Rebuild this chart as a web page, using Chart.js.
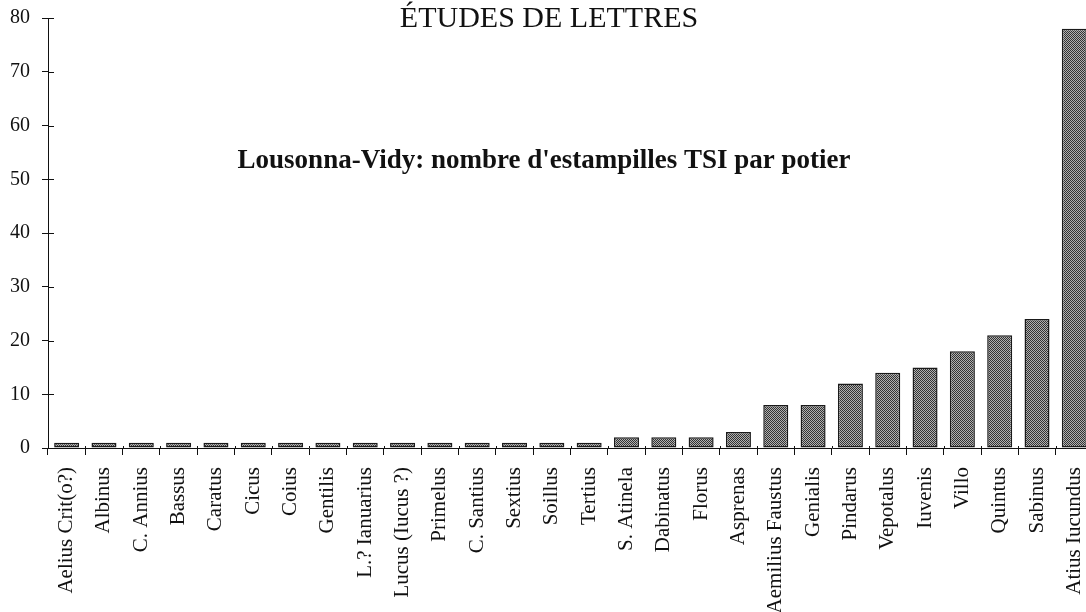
<!DOCTYPE html>
<html>
<head>
<meta charset="utf-8">
<script src="https://cdn.jsdelivr.net/npm/chart.js@4"></script>
<style>
  html, body { margin: 0; padding: 0; background: #fff; overflow: hidden; }
  #wrap { width: 1093px; height: 612px; }
</style>
</head>
<body>
<div id="wrap"><canvas id="potiers" width="1093" height="612"></canvas></div>
<script>
// potiers, dans l'ordre du graphique
const potiers = ['Aelius Crit(o?)', 'Albinus', 'C. Annius', 'Bassus', 'Caratus', 'Cicus', 'Coius',
  'Gentilis', 'L.? Ianuarius', 'Lucus (Iucus ?)', 'Primelus', 'C. Santius', 'Sextius', 'Soillus',
  'Tertius', 'S. Atinela', 'Dabinatus', 'Florus', 'Asprenas', 'Aemilius Faustus', 'Genialis',
  'Pindarus', 'Vepotalus', 'Iuvenis', 'Villo', 'Quintus', 'Sabinus', 'Atius Iucundus']
// nombre d'estampilles TSI
const estampilles = [1, 1, 1, 1, 1, 1, 1, 1, 1, 1, 1, 1, 1, 1, 1, 2, 2, 2, 3, 8, 8, 12, 14, 15, 18, 21, 24, 78]
const yMin = 0, yMax = 80, yStep = 10

const entete = 'ÉTUDES DE LETTRES'
const titre = "Lousonna-Vidy: nombre d'estampilles TSI par potier"

const serif = "'Liberation Serif', 'Times New Roman', serif"

// trame grise en damier pour les barres
function trame() {
  const c = document.createElement('canvas')
  c.width = 2; c.height = 2
  const g = c.getContext('2d')
  g.fillStyle = '#b0b0b0'; g.fillRect(0, 0, 2, 2)
  g.fillStyle = '#333'; g.fillRect(0, 0, 1, 1); g.fillRect(1, 1, 1, 1)
  return g.createPattern(c, 'repeat')
}

// petits traits vers l'interieur des axes + textes du titre
const axesEtTitres = {
  id: 'axesEtTitres',
  afterDraw(chart) {
    const ctx = chart.ctx
    const x = chart.scales.x, y = chart.scales.y
    const area = chart.chartArea
    ctx.save()
    ctx.strokeStyle = '#111'
    ctx.lineWidth = 1
    ctx.beginPath()
    y.ticks.forEach(t => {
      const py = Math.round(y.getPixelForValue(t.value)) + 0.5
      ctx.moveTo(area.left, py); ctx.lineTo(area.left + 6, py)
    })
    const half = (x.getPixelForValue(1) - x.getPixelForValue(0)) / 2
    for (let i = 1; i < potiers.length; i++) {
      const px = Math.round(x.getPixelForValue(i) - half) + 0.5
      ctx.moveTo(px, area.bottom); ctx.lineTo(px, area.bottom - 2)
    }
    ctx.stroke()

    ctx.fillStyle = '#111'
    ctx.textAlign = 'center'
    ctx.textBaseline = 'alphabetic'
    ctx.font = '30px ' + serif
    ctx.fillText(entete, 549, 27)
    ctx.font = 'bold 27px ' + serif
    ctx.fillText(titre, 544, 168)
    ctx.restore()
  }
}

new Chart(document.getElementById('potiers'), {
  type: 'bar',
  data: {
    labels: potiers,
    datasets: [{
      data: estampilles,
      backgroundColor: trame(),
      borderColor: '#1a1a1a',
      borderWidth: 1.5,
      borderSkipped: false,
      barPercentage: 0.67,
      categoryPercentage: 1
    }]
  },
  options: {
    responsive: false,
    animation: false,
    layout: { padding: { top: 18, right: 0, left: 0, bottom: 0 } },
    plugins: { legend: { display: false }, tooltip: { enabled: false } },
    scales: {
      x: {
        afterFit(s) { s.height = 164; s.paddingLeft = 0; s.paddingRight = 0 },
        grid: { drawOnChartArea: false, drawTicks: true, tickLength: 7, color: '#111' },
        border: { color: '#111', width: 1 },
        ticks: {
          autoSkip: false, maxRotation: 90, minRotation: 90, padding: 12,
          color: '#111', font: { family: serif, size: 21 }
        }
      },
      y: {
        min: yMin, max: yMax,
        afterFit(s) { s.width = 48; s.paddingTop = 0; s.paddingBottom = 0 },
        grid: { drawOnChartArea: false, drawTicks: true, tickLength: 6, color: '#111' },
        border: { color: '#111', width: 1 },
        ticks: { stepSize: yStep, padding: 12, color: '#111', font: { family: serif, size: 20 } }
      }
    }
  },
  plugins: [axesEtTitres]
})
</script>
</body>
</html>
